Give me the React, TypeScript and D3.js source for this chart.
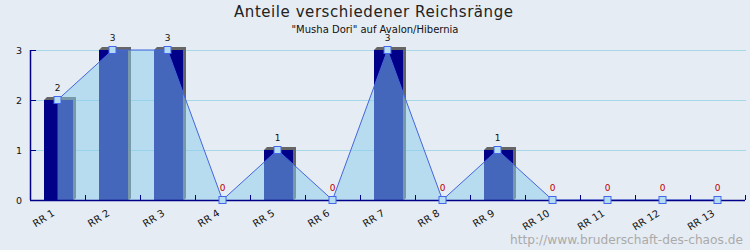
import React from "react";
import * as d3 from "d3";

const categories = ["RR 1","RR 2","RR 3","RR 4","RR 5","RR 6","RR 7","RR 8","RR 9","RR 10","RR 11","RR 12","RR 13"];
const barValues = [2,3,3,0,1,0,3,0,1,0,0,0,0];
const lineValues = [2,3,3,0,1,0,3,0,1,0,0,0,0];
const yTicks = [0,1,2,3];
const title = "Anteile verschiedener Reichsränge";
const subtitle = "\"Musha Dori\" auf Avalon/Hibernia";
const watermark = "http://www.bruderschaft-des-chaos.de";

const W = 750, H = 250;
const FONT = "DejaVu Sans, Verdana, sans-serif";

export default function App() {
  const x = d3.scaleBand<string>().domain(categories).range([30, 745]).padding(0);
  const y = d3.scaleLinear().domain([0, 3]).range([200, 50]);
  const bw = x.bandwidth();
  const cx = (c: string) => (x(c) as number) + bw / 2;
  const barW = 29;
  const barOff = 14;

  const pts = categories.map((c, i) => ({ c, v: lineValues[i] }));
  const area = d3.area<{ c: string; v: number }>().x(d => cx(d.c)).y0(y(0)).y1(d => y(d.v));
  const line = d3.line<{ c: string; v: number }>().x(d => cx(d.c)).y(d => y(d.v));

  return (
    <svg width={W} height={H} style={{ display: "block", position: "absolute", left: 0, top: 0 }}>
      <rect x={0} y={0} width={W} height={H} fill="#e6ecf3" />
      <text x={234} y={17} fontFamily={FONT} fontSize={15} fill="#222" textLength={279} lengthAdjust="spacing">{title}</text>
      <text x={375} y={33} textAnchor="middle" fontFamily={FONT} fontSize={10} fill="#111">{subtitle}</text>

      {yTicks.filter(t => t > 0).map(t => (
        <line key={"g" + t} x1={31} x2={746} y1={y(t) + 0.5} y2={y(t) + 0.5} stroke="#a6d8e8" strokeWidth={1} />
      ))}

      {categories.map((c, i) => {
        const v = barValues[i];
        if (v <= 0) return null;
        const bx = (x(c) as number) + barOff;
        const by = y(v);
        const h = y(0) - by;
        return (
          <g key={"b" + c}>
            <polygon points={`${bx + 3},${by - 3} ${bx + 3 + barW},${by - 3} ${bx + 3 + barW},${y(0) - 2} ${bx + 1 + barW},${y(0)} ${bx},${y(0)} ${bx},${by}`} fill="#666666" />
            <rect x={bx} y={by} width={barW} height={h} fill="#000088" />
          </g>
        );
      })}

      <path d={area(pts) || ""} fill="#88ccee" fillOpacity={0.5} />
      <path d={line(pts) || ""} fill="none" stroke="#4466dd" strokeWidth={1} />

      <line x1={30.5} x2={30.5} y1={y(3)} y2={y(0)} stroke="#000088" strokeWidth={1.5} />
      <line x1={30} x2={745} y1={y(0) + 0.5} y2={y(0) + 0.5} stroke="#000088" strokeWidth={1.5} />
      {yTicks.map(t => (
        <g key={"yt" + t}>
          <line x1={30} x2={36} y1={y(t) + 0.5} y2={y(t) + 0.5} stroke="#000088" strokeWidth={1} />
          <text x={22} y={y(t) + 3.5} textAnchor="end" fontFamily={FONT} fontSize={9.5} fill="#111">{t}</text>
        </g>
      ))}
      {categories.map(c => (
        <line key={"xt" + c} x1={(x(c) as number) + bw + 0.5} x2={(x(c) as number) + bw + 0.5} y1={195} y2={200} stroke="#000088" strokeWidth={1} />
      ))}
      {categories.map(c => (
        <text key={"xl" + c} transform={`translate(${cx(c) - 2},${215}) rotate(-32)`} textAnchor="end" fontFamily={FONT} fontSize={10} fill="#111">{c}</text>
      ))}

      {pts.map(p => (
        <rect key={"m" + p.c} x={cx(p.c) - 3.5} y={y(p.v) - 3.5} width={7} height={7} fill="#b4dcf0" stroke="#4466ee" strokeWidth={1} />
      ))}
      {pts.map(p => (
        <text key={"v" + p.c} x={cx(p.c)} y={y(p.v) - 9} textAnchor="middle" fontFamily={FONT} fontSize={9} fill={p.v === 0 ? "#bb0000" : "#111"}>{p.v}</text>
      ))}

      <text x={743} y={244} textAnchor="end" fontFamily={FONT} fontSize={12.2} fill="#aaaaaa">{watermark}</text>
    </svg>
  );
}
